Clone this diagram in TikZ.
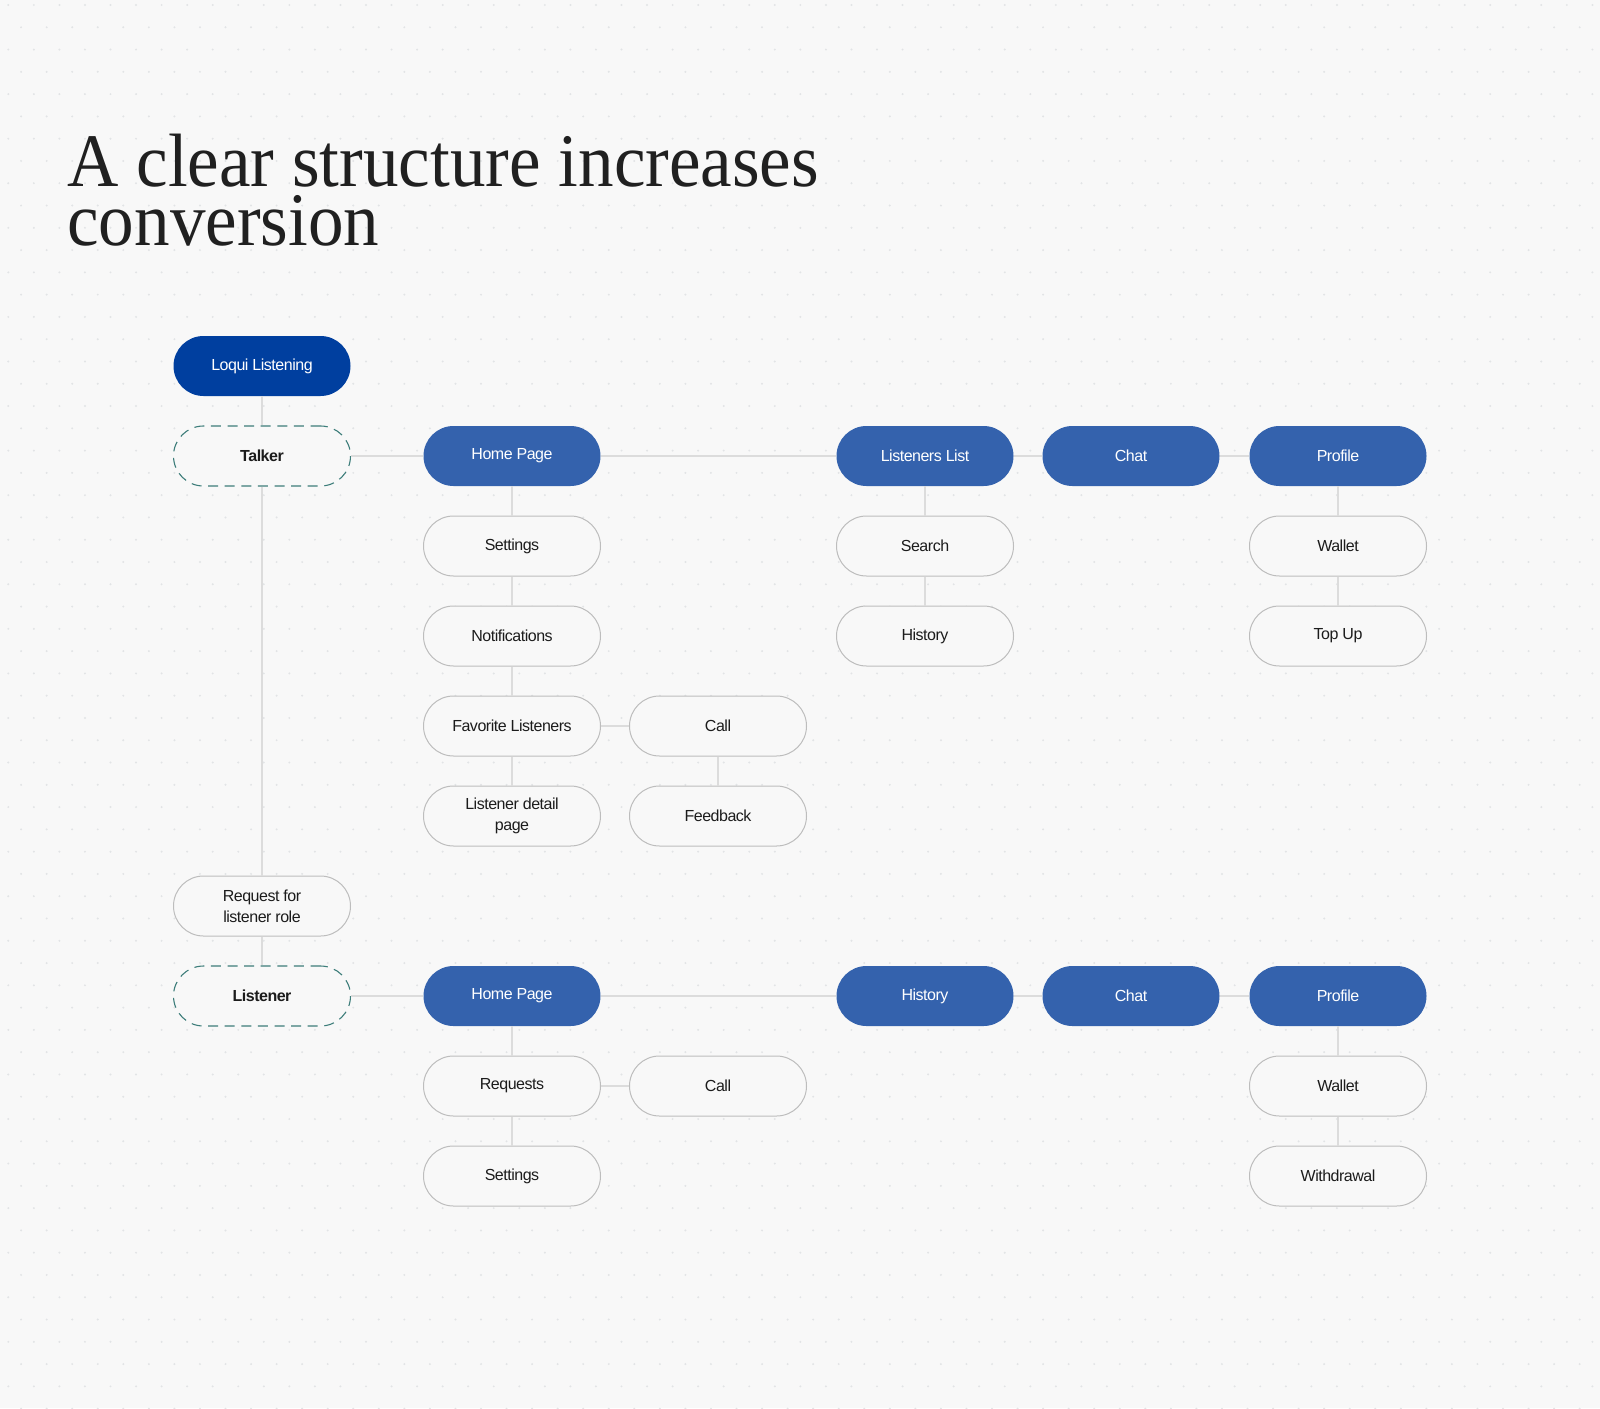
\documentclass[tikz,border=0pt]{standalone}
\usepackage{fontspec}
\setmainfont{Liberation Serif}
\newfontfamily\nodefont[LetterSpace=-3]{Liberation Sans}
\definecolor{bg}{HTML}{F8F8F8}
\definecolor{dotc}{HTML}{E2E4E6}
\definecolor{darkblue}{HTML}{003F9F}
\definecolor{nodeblue}{HTML}{3462AD}
\definecolor{nodeborder}{HTML}{BDBDBD}
\definecolor{rolecol}{HTML}{3D7D7A}
\definecolor{linegray}{HTML}{DCDCDC}
\definecolor{txt}{HTML}{1C1C1C}
\definecolor{titlec}{HTML}{202020}
\tikzset{
  basebox/.style={rectangle, rounded corners=15pt, minimum width=88.5pt, minimum height=30pt,
    inner sep=0pt, align=center, font=\nodefont\fontsize{8}{10.4}\selectfont},
  darkbox/.style={basebox, fill=darkblue, text=white},
  bluebox/.style={basebox, fill=nodeblue, text=white},
  whitebox/.style={basebox, fill=bg, draw=nodeborder, line width=0.5pt, text=txt},
  rolebox/.style={basebox, fill=bg, draw=rolecol, dash pattern=on 5pt off 3.3pt, line width=0.55pt,
    text=txt, font=\nodefont\bfseries\fontsize{8}{10.4}\selectfont},
  link/.style={draw=linegray, line width=0.75pt},
  titletext/.style={anchor=base west, inner sep=0, text=titlec},
}
\begin{document}
\begin{tikzpicture}[x=0.5pt,y=-0.5pt]
\fill[bg] (0,0) rectangle (1600,1408);
\useasboundingbox (0,0) rectangle (1600,1408);
% dot grid
\foreach \j in {0,...,63}{
  \pgfmathsetmacro{\yy}{5+\j*22.28}
  \pgfmathsetmacro{\xo}{ifthenelse(mod(\j,2)==0,8.3,21.1)}
  \foreach \i in {-1,...,62}{
    \fill[dotc] ({\xo+\i*25.55},\yy) circle (1.1);
  }
}
% title
\node[titletext] (title1) at (67,186)
  {\scalebox{0.94}[1]{\fontsize{37.8}{40}\selectfont A clear structure increases}};
\node[titletext] (title2) at (67,245)
  {\scalebox{0.94}[1]{\fontsize{37.8}{40}\selectfont conversion}};

% nodes
\node[darkbox] (loqui) at (262,366) {Loqui Listening};
\node[rolebox] (talker) at (262,456) {Talker};
\node[bluebox] (home1) at (512,456) {Home Page};
\node[bluebox] (llist) at (925,456) {Listeners List};
\node[bluebox] (chat1) at (1131,456) {Chat};
\node[bluebox] (prof1) at (1338,456) {Profile};
\node[whitebox] (sett1) at (512,546) {Settings};
\node[whitebox] (notif) at (512,636) {Notifications};
\node[whitebox] (fav) at (512,726) {Favorite Listeners};
\node[whitebox] (detail) at (512,816) {Listener detail\\page};
\node[whitebox] (call1) at (718,726) {Call};
\node[whitebox] (feedb) at (718,816) {Feedback};
\node[whitebox] (search) at (925,546) {Search};
\node[whitebox] (hist1) at (925,636) {History};
\node[whitebox] (wall1) at (1338,546) {Wallet};
\node[whitebox] (topup) at (1338,636) {Top Up};
\node[whitebox] (req) at (262,906) {Request for\\listener role};
\node[rolebox] (listener) at (262,996) {Listener};
\node[bluebox] (home2) at (512,996) {Home Page};
\node[bluebox] (hist2) at (925,996) {History};
\node[bluebox] (chat2) at (1131,996) {Chat};
\node[bluebox] (prof2) at (1338,996) {Profile};
\node[whitebox] (reqs) at (512,1086) {Requests};
\node[whitebox] (call2) at (718,1086) {Call};
\node[whitebox] (sett2) at (512,1176) {Settings};
\node[whitebox] (wall2) at (1338,1086) {Wallet};
\node[whitebox] (withd) at (1338,1176) {Withdrawal};

% connectors
\draw[link] (loqui) -- (talker);
\draw[link] (talker) -- (req);
\draw[link] (req) -- (listener);
\draw[link] (talker) -- (home1);
\draw[link] (home1) -- (llist);
\draw[link] (llist) -- (chat1);
\draw[link] (chat1) -- (prof1);
\draw[link] (home1) -- (sett1);
\draw[link] (sett1) -- (notif);
\draw[link] (notif) -- (fav);
\draw[link] (fav) -- (detail);
\draw[link] (fav) -- (call1);
\draw[link] (call1) -- (feedb);
\draw[link] (llist) -- (search);
\draw[link] (search) -- (hist1);
\draw[link] (prof1) -- (wall1);
\draw[link] (wall1) -- (topup);
\draw[link] (listener) -- (home2);
\draw[link] (home2) -- (hist2);
\draw[link] (hist2) -- (chat2);
\draw[link] (chat2) -- (prof2);
\draw[link] (home2) -- (reqs);
\draw[link] (reqs) -- (sett2);
\draw[link] (reqs) -- (call2);
\draw[link] (prof2) -- (wall2);
\draw[link] (wall2) -- (withd);
\end{tikzpicture}
\end{document}
